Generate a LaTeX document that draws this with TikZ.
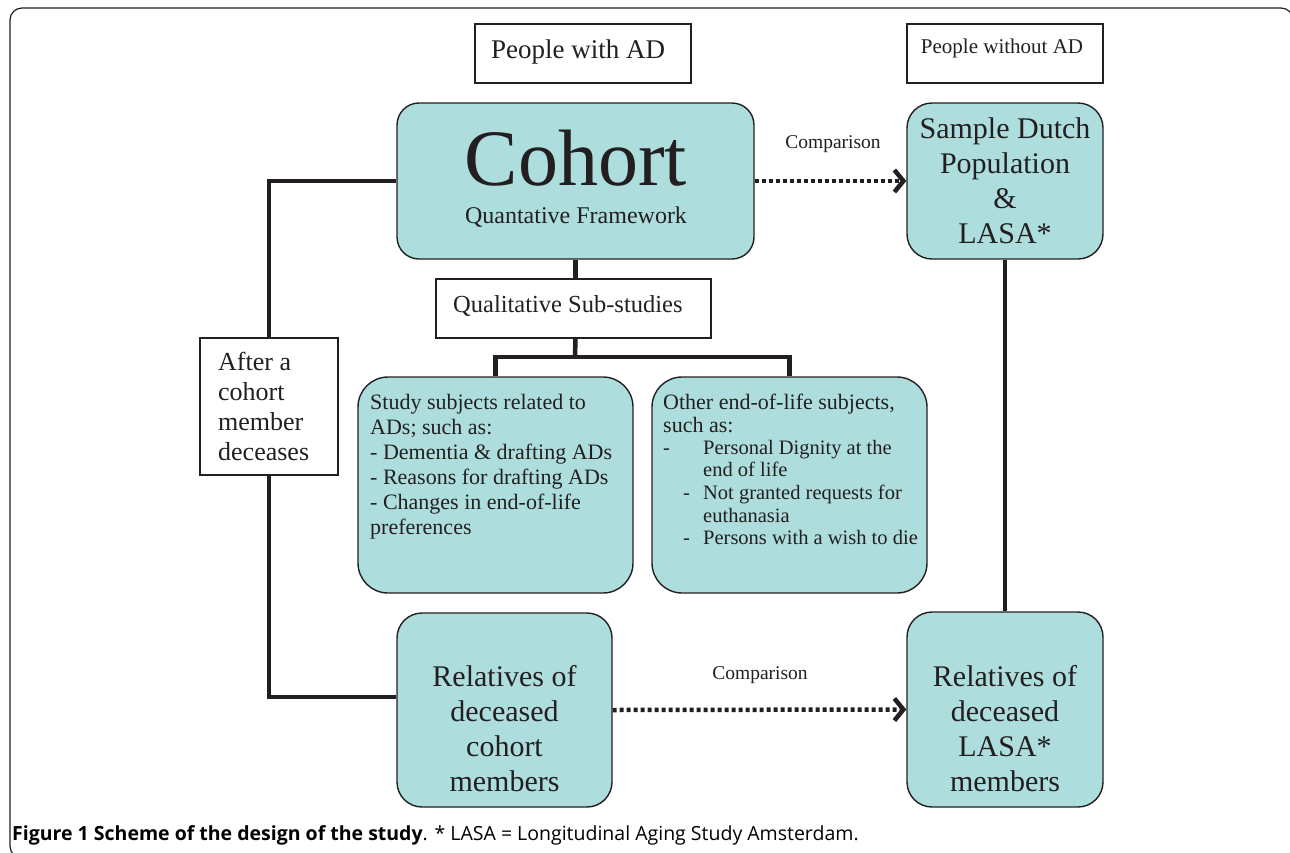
\documentclass[tikz,border=0pt]{standalone}
\usepackage{fontspec}
\setmainfont{Liberation Serif}
\newfontfamily\capfont{Open Sans}
\usetikzlibrary{arrows.meta}
\definecolor{tealfill}{RGB}{173,222,221}
\definecolor{ink}{RGB}{35,31,32}
\newcommand{\myfs}[2]{\fontsize{#1}{#2}\selectfont}
\begin{document}
\begin{tikzpicture}[x=1pt,y=-1pt,
  tealbox/.style={draw=ink, line width=1.4pt, fill=tealfill, rounded corners=25pt, inner sep=0pt},
  whitebox/.style={draw=ink, line width=1.2pt, fill=white, inner sep=0pt},
  txt/.style={inner sep=0pt, text=ink},
  conn/.style={draw=ink, line width=4.5pt},
  cmp/.style={draw=ink, line width=4.5pt, dash pattern=on 4pt off 3pt, -{Straight Barb[length=9pt,width=22pt]}}
]
\useasboundingbox (0,0) rectangle (1290,852);
\fill[white] (0,0) rectangle (1290,852);
\draw[ink, line width=1.2pt, rounded corners=12pt] (10,8) rectangle (1293,858);

% header boxes
\node[whitebox, minimum width=216pt, minimum height=59pt] (withad) at (583,53.5) {};
\node[txt, anchor=base, font=\myfs{27}{32}] (withadT) at (578,58) {People with AD};
\node[whitebox, minimum width=196pt, minimum height=59pt] (woad) at (1005,53.5) {};
\node[txt, anchor=base, font=\myfs{21}{25}] (woadT) at (1002,53) {People without AD};

% cohort
\node[tealbox, rounded corners=22pt, minimum width=357pt, minimum height=156pt] (cohort) at (575.5,181) {};
\node[txt, anchor=base, font=\myfs{80}{90}] (cohortT) at (576,185) {Cohort};
\node[txt, anchor=base, font=\myfs{24}{28}] (cohortS) at (576,223) {Quantative Framework};

% sample
\node[tealbox, minimum width=196pt, minimum height=156pt] (sample) at (1005,181) {};
\node[txt, anchor=base, font=\myfs{30}{35}] (sampleT) at (1005,138)
  {\begin{tabular}[t]{@{}c@{}}Sample Dutch\\Population\\\&\\LASA*\end{tabular}};

% comparison 1
\node[txt, anchor=base, font=\myfs{19.5}{23}] (cmp1) at (833,148) {Comparison};
\draw[cmp] (cohort.east) -- (sample.west);

% qualitative
\node[whitebox, minimum width=275pt, minimum height=59pt] (qual) at (573.5,308.5) {};
\node[txt, anchor=base west, font=\myfs{24.5}{28}] (qualT) at (453,312) {Qualitative Sub-studies};
\draw[conn] (cohort.south) -- (cohort.south |- qual.north);

% sub-study boxes
\node[tealbox, rounded corners=30pt, minimum width=275pt, minimum height=216pt] (study) at (495.5,485) {};
\node[txt, anchor=base west, font=\myfs{22}{25}] (studyT) at (370,409)
  {\begin{tabular}[t]{@{}l@{}}Study subjects related to\\ADs; such as:\\- Dementia \& drafting ADs\\- Reasons for drafting ADs\\- Changes in end-of-life\\preferences\end{tabular}};
\node[tealbox, rounded corners=30pt, minimum width=275pt, minimum height=216pt] (other) at (789.5,485) {};
\node[txt, anchor=base west, font=\myfs{22}{23}] (otherH) at (663,409)
  {\begin{tabular}[t]{@{}l@{}}Other end-of-life subjects,\\such as:\end{tabular}};
\node[txt, anchor=base west, font=\myfs{20.5}{22.7}] (otherI) at (663,454)
  {\begin{tabular}[t]{@{}l@{}}\makebox[40pt][l]{-}Personal Dignity at the\\
   \hspace*{40pt}end of life\\
   \hspace*{20pt}\makebox[20pt][l]{-}Not granted requests for\\
   \hspace*{40pt}euthanasia\\
   \hspace*{20pt}\makebox[20pt][l]{-}Persons with a wish to die\end{tabular}};
\coordinate (br) at (575,357);
\draw[conn] (cohort.south |- qual.south) -- (br);
\draw[conn] (study.north) |- (br) -| (other.north);

% after box
\node[whitebox, minimum width=138pt, minimum height=137pt] (after) at (269,406.5) {};
\node[txt, anchor=base west, font=\myfs{26}{30}] (afterT) at (218,370)
  {\begin{tabular}[t]{@{}l@{}}After a\\cohort\\member\\deceases\end{tabular}};

% relatives
\node[tealbox, minimum width=215pt, minimum height=194pt] (rel1) at (504.5,710) {};
\node[txt, anchor=base, font=\myfs{30}{35}] (rel1T) at (504.5,686)
  {\begin{tabular}[t]{@{}c@{}}Relatives of\\deceased\\cohort\\members\end{tabular}};
\node[tealbox, minimum width=196pt, minimum height=195pt] (rel2) at (1005,709.5) {};
\node[txt, anchor=base, font=\myfs{30}{35}] (rel2T) at (1005,686)
  {\begin{tabular}[t]{@{}c@{}}Relatives of\\deceased\\LASA*\\members\end{tabular}};

% comparison 2
\node[txt, anchor=base, font=\myfs{19.5}{23}] (cmp2) at (760,679) {Comparison};
\draw[cmp] (rel1.east) -- (rel2.west);

% left connector
\draw[conn] (cohort.west) -| (after.north);
\draw[conn] (after.south) |- ([yshift=13pt]rel1.west);
% right connector
\draw[conn, line width=4pt] (sample.south) -- (rel2.north);

% caption
\node[inner sep=0pt, anchor=base west, text=black, font=\capfont\myfs{19.5}{22}] (caption) at (12,840)
  {\textbf{Figure 1 Scheme of the design of the study}. * LASA = Longitudinal Aging Study Amsterdam.};
\end{tikzpicture}
\end{document}
